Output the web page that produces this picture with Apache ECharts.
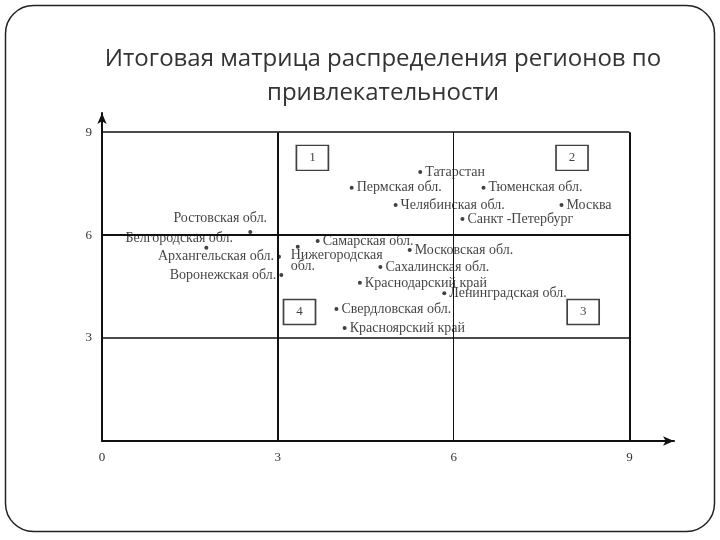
<!DOCTYPE html>
<html>
<head>
<meta charset="utf-8">
<script src="https://cdn.jsdelivr.net/npm/echarts@6/dist/echarts.min.js"></script>
<style>
  html, body { margin: 0; padding: 0; background: #fff; }
  #chart { width: 720px; height: 540px; }
</style>
</head>
<body>
<div id="chart"></div>
<script>
// regions and their scores (x: 0..9, y: 0..9)
var regions = ['Татарстан', 'Пермская обл.', 'Тюменская обл.', 'Челябинская обл.', 'Москва',
	'Санкт -Петербург', 'Ростовская обл.', 'Белгородская обл.', 'Архангельская обл.', 'Воронежская обл.',
	'Самарская обл.', 'Нижегородская\nобл.', 'Московская обл.', 'Сахалинская обл.', 'Краснодарский край',
	'Ленинградская обл.', 'Свердловская обл.', 'Красноярский край'];
var xScores = [5.43, 4.26, 6.51, 5.01, 7.84, 6.15, 2.53, 1.78, 3.02, 3.06, 3.68, 3.34, 5.25, 4.75, 4.40, 5.84, 4.00, 4.14];
var yScores = [7.84, 7.38, 7.38, 6.88, 6.88, 6.47, 6.09, 5.63, 5.37, 4.84, 5.83, 5.66, 5.57, 5.07, 4.61, 4.31, 3.85, 3.29];

// quadrant numbers
var quadNames = ['1', '2', '4', '3'];
var quadX = [3.59, 8.02, 3.37, 8.21];
var quadY = [8.25, 8.25, 3.76, 3.76];

var tickLabels = [0, 3, 6, 9];
var gridLines = [3, 6, 9];

var chart = echarts.init(document.getElementById('chart'));

var serif = '"Liberation Serif", "DejaVu Serif", serif';

// label placement for the few points not labelled on the right
var labelPlace = {
	'Ростовская обл.': { position: 'top', distance: 5, offset: [-30, 0] },
	'Белгородская обл.': { position: 'top', distance: 1, offset: [-27, 0] },
	'Архангельская обл.': { position: 'left', distance: 3 },
	'Воронежская обл.': { position: 'left', distance: 3 },
	'Нижегородская\nобл.': { position: [-5, 5], align: 'left', verticalAlign: 'top', lineHeight: 11 }
};

var points = [];
for (var i = 0; i < regions.length; i++) {
	var item = { name: regions[i], value: [xScores[i], yScores[i]] };
	if (labelPlace[regions[i]]) {
		item.label = labelPlace[regions[i]];
	}
	points.push(item);
}

var quads = [];
for (var j = 0; j < quadNames.length; j++) {
	quads.push({ name: quadNames[j], value: [quadX[j], quadY[j]] });
}

var lineData = [];
var widthsV = { 3: 2, 6: 1, 9: 2 };
var widthsH = { 3: 1.5, 6: 2, 9: 1.5 };
gridLines.forEach(function (g) {
	lineData.push([{ coord: [g, 0], lineStyle: { width: widthsV[g] } }, { coord: [g, 9] }]);
	lineData.push([{ coord: [0, g], lineStyle: { width: widthsH[g] } }, { coord: [9, g] }]);
});

function tickFmt(v) {
	return tickLabels.indexOf(v) >= 0 ? String(v) : '';
}

var option = {
	animation: false,
	title: {
		text: 'Итоговая матрица распределения регионов по\nпривлекательности',
		left: 378,
		top: 37,
		textAlign: 'center',
		textStyle: {
			fontFamily: '"Open Sans", "Noto Sans", sans-serif',
			fontWeight: 'normal',
			fontSize: 24,
			lineHeight: 34,
			color: '#333'
		}
	},
	graphic: [{
		type: 'rect',
		shape: { x: 5.5, y: 5.5, width: 709, height: 526, r: 28 },
		style: { fill: 'none', stroke: '#222', lineWidth: 1.5 },
		silent: true
	}],
	grid: { left: 102, right: 46, top: 113, bottom: 99 },
	xAxis: {
		type: 'value',
		min: 0,
		max: 9.76,
		interval: 3,
		axisLine: { show: true, lineStyle: { color: '#111', width: 2 }, symbol: ['none', 'arrow'], symbolSize: [7, 11] },
		axisTick: { show: false },
		splitLine: { show: false },
		axisLabel: { formatter: tickFmt, margin: 10, color: '#333', fontFamily: serif, fontSize: 13 }
	},
	yAxis: {
		type: 'value',
		min: 0,
		max: 9.56,
		interval: 3,
		axisLine: { show: true, lineStyle: { color: '#111', width: 2 }, symbol: ['none', 'arrow'], symbolSize: [7, 11] },
		axisTick: { show: false },
		splitLine: { show: false },
		axisLabel: {
			formatter: function (v) { return v === 0 ? '' : tickFmt(v); },
			margin: 10, color: '#333', fontFamily: serif, fontSize: 13
		}
	},
	series: [
		{
			type: 'scatter',
			name: 'lines',
			data: [],
			markLine: {
				silent: true,
				symbol: 'none',
				label: { show: false },
				lineStyle: { color: '#111', type: 'solid' },
				data: lineData
			}
		},
		{
			type: 'scatter',
			name: 'regions',
			symbol: 'circle',
			symbolSize: 4,
			itemStyle: { color: '#111' },
			label: {
				show: true,
				position: 'right',
				distance: 3,
				formatter: '{b}',
				color: '#111',
				fontFamily: serif,
				fontSize: 14
			},
			data: points
		},
		{
			type: 'scatter',
			name: 'quadrants',
			symbol: 'rect',
			symbolSize: [32, 25],
			itemStyle: { color: '#fff', borderColor: '#111', borderWidth: 1.5 },
			label: {
				show: true,
				position: 'inside',
				formatter: '{b}',
				color: '#111',
				fontFamily: serif,
				fontSize: 13
			},
			data: quads
		}
	]
};

chart.setOption(option);
</script>
</body>
</html>
